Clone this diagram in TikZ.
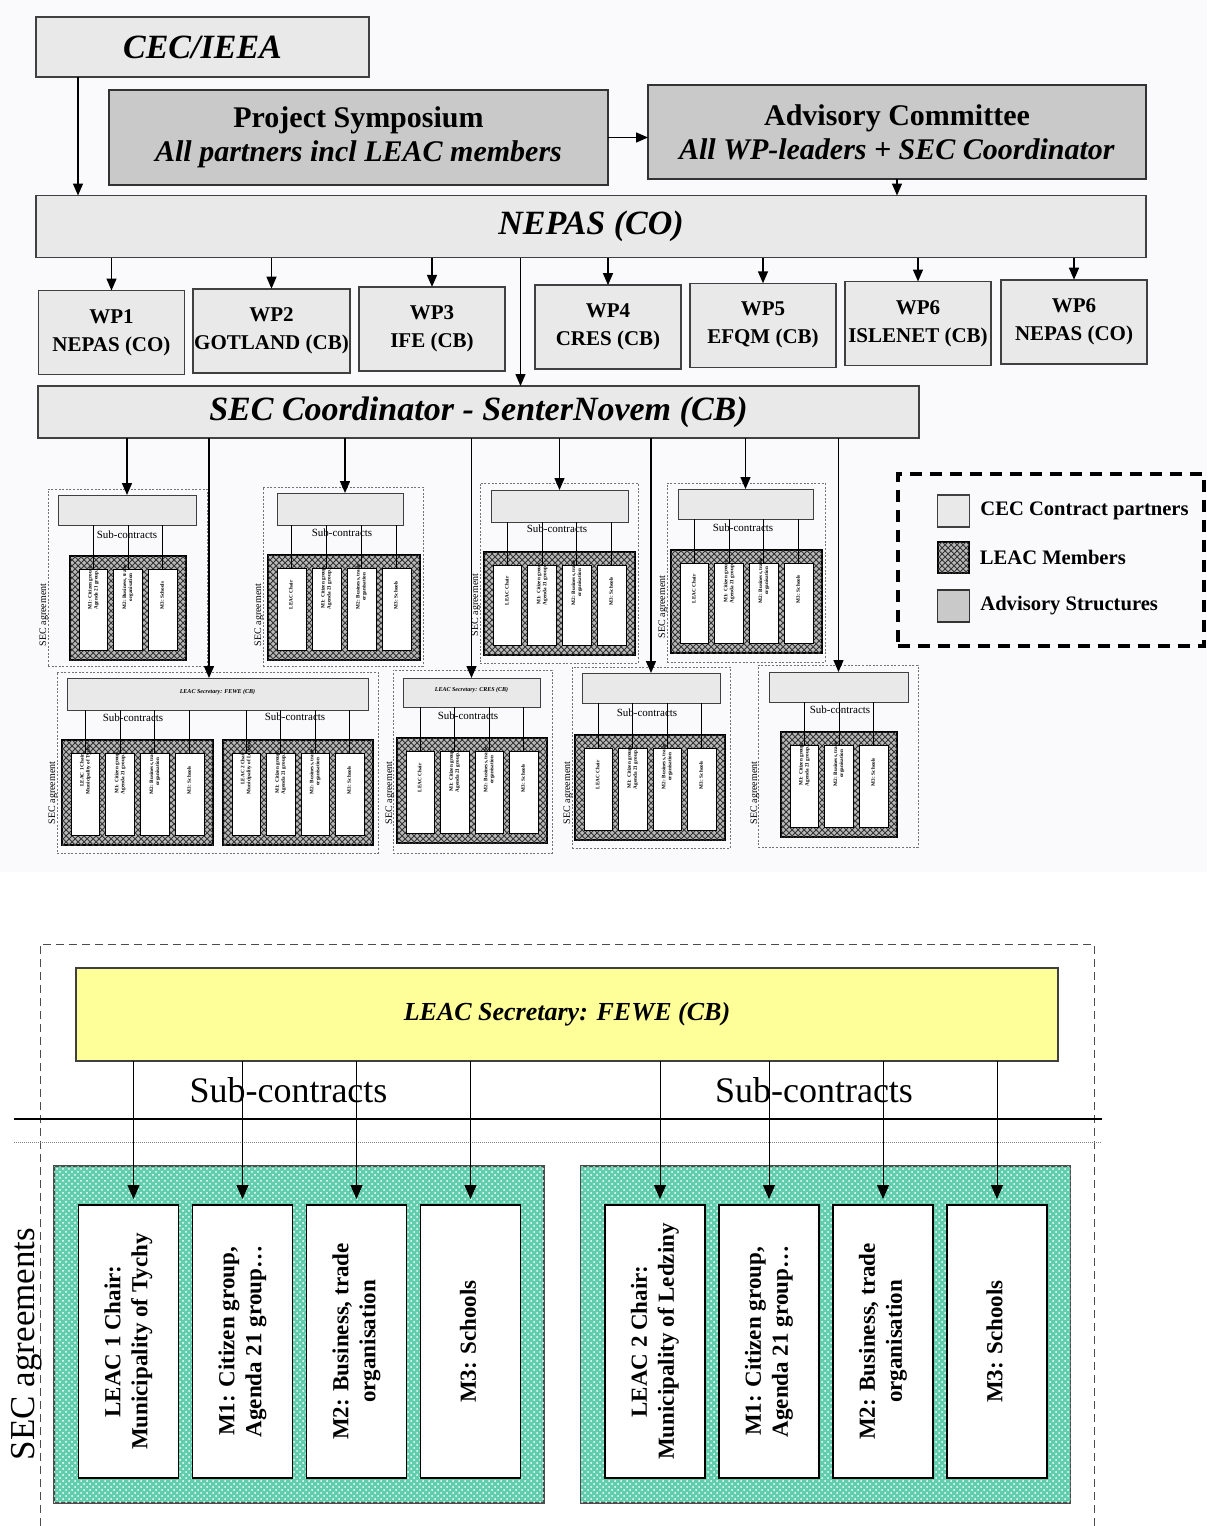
\documentclass[tikz,border=0pt]{standalone}
\usepackage{fontspec}
\setmainfont{Liberation Serif}
\usepackage{graphicx}
\usetikzlibrary{shapes.geometric, arrows, arrows.meta, positioning, patterns, fit}

\definecolor{scanbg}{RGB}{250,249,252}
\definecolor{leacteal}{RGB}{96,206,172}
\definecolor{secyellow}{RGB}{255,255,153}

\tikzstyle{partner} = [rectangle, draw=black!75, line width=0.8pt, fill=gray!17, text centered, inner sep=0pt, outer sep=0pt]
\tikzstyle{advisory} = [rectangle, draw=black!80, line width=0.8pt, fill=gray!42, text centered, inner sep=0pt, outer sep=0pt]
\tikzstyle{leac} = [rectangle, draw=black, line width=0.8pt, fill=gray!55, postaction={pattern=crosshatch, pattern color=black!80}, inner sep=0pt, outer sep=0pt]
\tikzstyle{member} = [rectangle, draw=black, line width=0.5pt, fill=white, inner sep=0pt, outer sep=0pt]
\tikzstyle{agreement} = [rectangle, draw=black!55, dash pattern=on 1pt off 0.8pt, line width=0.4pt, inner sep=0pt]
\tikzstyle{minihead} = [partner, line width=0.5pt, align=center, font=\bfseries\itshape\fontsize{3}{3.6}\selectfont]
\tikzstyle{smallprint} = [font=\bfseries\fontsize{2.6}{3}\selectfont]
\tikzstyle{subc} = [inner sep=0pt, font=\fontsize{5.5}{6}\selectfont]
\tikzstyle{secagr} = [inner sep=0pt, rotate=90, font=\fontsize{5}{6}\selectfont]
\tikzstyle{wpbox} = [partner, minimum width=73pt, minimum height=42pt, align=center, font=\bfseries\fontsize{10.5}{14}\selectfont]
\tikzstyle{legendtext} = [inner sep=0pt, font=\bfseries\fontsize{10.3}{12}\selectfont]
\tikzstyle{secretary} = [rectangle, draw=black!75, line width=0.8pt, fill=secyellow, minimum width=491pt, minimum height=46.5pt, outer sep=0pt, font=\bfseries\itshape\fontsize{13}{15}\selectfont]
\tikzstyle{tealbox} = [rectangle, draw=black!70, line width=0.7pt, fill=leacteal, postaction={pattern=crosshatch dots, pattern color=white}, minimum width=245pt, minimum height=168.5pt]
\tikzstyle{bigmember} = [member, line width=0.8pt, minimum width=50pt, minimum height=136.5pt, font=\bfseries\fontsize{11.5}{13.5}\selectfont]
\tikzstyle{subtext} = [inner sep=0pt, font=\fontsize{18}{20}\selectfont]
\tikzstyle{arrow} = [line width=0.7pt, ->, >={Triangle[length=6pt, width=5pt]}]
\tikzstyle{thinarrow} = [line width=0.5pt, ->, >={Triangle[length=7pt, width=6pt]}, shorten >=3pt]

\newcommand{\vtext}[1]{\rotatebox{90}{\begin{tabular}{@{}c@{}}#1\end{tabular}}}
\def\mtexti{M1: Citizen group,\\Agenda 21 group\ldots}
\def\mtextii{M2: Business, trade\\organisation}
\def\mtextiii{M3: Schools}

% LEAC member group: name, x1, y1, x2, y2, columns, chair text, header node
\newcommand{\membergroup}[8]{%
  \node (#1) [leac, fit={(#2,#3) (#4,#5)}] {};
  \pgfmathsetmacro{\colw}{(#4-#2-18-(#6-1)*6)/#6}
  \foreach \k in {1,...,#6}{
    \pgfmathsetmacro{\xa}{#2+9+(\k-1)*(\colw+6)}
    \pgfmathsetmacro{\xb}{\xa+\colw}
    \pgfmathtruncatemacro{\m}{\k-#6+3}
    \ifnum\m=0 \def\coltext{#7}\else\expandafter\let\expandafter\coltext\csname mtext\romannumeral\m\endcsname\fi
    \node (#1-\k) [member, smallprint, fit={(\xa,#3+13) (\xb,#5-10)}] {\vtext{\coltext}};
    \draw [line width=0.4pt] (#8.south -| #1-\k.north) -- (#1-\k.north);
  }
}

\begin{document}
\begin{tikzpicture}[x=0.5pt, y=-0.5pt]
      \useasboundingbox (0,0) rectangle (1207,1526);
      \fill [scanbg] (0,0) rectangle (1207,872);
      % Nodes
      \node (cec) [partner, minimum width=166.5pt, minimum height=30pt, font=\bfseries\itshape\fontsize{17}{20}\selectfont] at (202.5,47) {CEC/IEEA};
      \node (sym) [advisory, minimum width=249.5pt, minimum height=47.5pt, align=center, font=\fontsize{15}{17}\selectfont] at (358.5,137.5) {\textbf{Project Symposium}\\\textbf{\textit{All partners incl LEAC members}}};
      \node (adv) [advisory, minimum width=249pt, minimum height=47pt, align=center, font=\fontsize{15}{17}\selectfont] at (897,132) {\textbf{Advisory Committee}\\\textbf{\textit{All WP-leaders + SEC Coordinator}}};
      \node (nepas) [partner, minimum width=555pt, minimum height=31pt, font=\bfseries\itshape\fontsize{17}{20}\selectfont] at (591,226.5) {NEPAS (CO)};
      \node (wp1) [wpbox] at (111.5,332.5) {WP1\\NEPAS (CO)};
      \node (wp2) [wpbox, minimum width=78.5pt, right=4.25pt of wp1, yshift=0.9pt] {WP2\\GOTLAND (CB)};
      \node (wp3) [wpbox, right=4.5pt of wp2, yshift=0.9pt] {WP3\\IFE (CB)};
      \node (wp4) [wpbox, right=15pt of wp3, yshift=0.9pt] {WP4\\CRES (CB)};
      \node (wp5) [wpbox, right=4.5pt of wp4, yshift=0.9pt] {WP5\\EFQM (CB)};
      \node (wp6) [wpbox, right=4.5pt of wp5, yshift=0.9pt] {WP6\\ISLENET (CB)};
      \node (wp7) [wpbox, right=5pt of wp6, yshift=0.9pt] {WP6\\NEPAS (CO)};
      \node (sec) [partner, minimum width=440.5pt, minimum height=26pt, font=\bfseries\itshape\fontsize{17}{20}\selectfont] at (478.5,412) {SEC Coordinator - SenterNovem (CB)};
      % SEC agreements, upper row
      \node (oa) [agreement, fit={(48,489) (207,666)}] {};
      \node (ha) [minihead, fit={(58,495) (196,525)}] {};
      \node (sa) [subc] at (127,535) {Sub-contracts};
      \node (ga) [secagr] at (44,615) {SEC agreement};
      \membergroup{la}{70}{556}{186}{660}{3}{}{ha}
      \node (ob) [agreement, fit={(263,487) (423,666)}] {};
      \node (hb) [minihead, fit={(277,493) (403,525)}] {};
      \node (sb) [subc] at (342,533) {Sub-contracts};
      \node (gb) [secagr] at (259,615) {SEC agreement};
      \membergroup{lb}{268}{555}{420}{660}{4}{LEAC Chair}{hb}
      \node (oc) [agreement, fit={(480,483) (638,663)}] {};
      \node (hc) [minihead, fit={(491,490) (628,522)}] {};
      \node (sc) [subc] at (557,529) {Sub-contracts};
      \node (gc) [secagr] at (476,605) {SEC agreement};
      \membergroup{lc}{484}{552}{635}{655}{4}{LEAC Chair}{hc}
      \node (od) [agreement, fit={(667,483) (825,662)}] {};
      \node (hd) [minihead, fit={(678,489) (813,519)}] {};
      \node (sd) [subc] at (743,528) {Sub-contracts};
      \node (gd) [secagr] at (663,607) {SEC agreement};
      \membergroup{ld}{671}{550}{822}{653}{4}{LEAC Chair}{hd}
      % SEC agreements, lower row
      \node (oe) [agreement, fit={(57,672) (378,853)}] {};
      \node (he) [minihead, fit={(67,678) (368,710)}] {LEAC Secretary: FEWE (CB)};
      \node (se1) [subc] at (133,718) {Sub-contracts};
      \node (se2) [subc] at (295,717) {Sub-contracts};
      \node (ge) [secagr] at (53,793) {SEC agreement};
      \membergroup{le}{62}{740}{213}{845}{4}{LEAC 1 Chair:\\Municipality of Tychy}{he}
      \membergroup{lf}{223}{740}{373}{845}{4}{LEAC 2 Chair:\\Municipality of Ledziny}{he}
      \node (of) [agreement, fit={(393,670) (552,853)}] {};
      \node (hf) [minihead, fit={(403,678) (540,707)}] {LEAC Secretary: CRES (CB)};
      \node (sf) [subc] at (468,716) {Sub-contracts};
      \node (gf) [secagr] at (390,793) {SEC agreement};
      \membergroup{lg}{397}{738}{547}{843}{4}{LEAC Chair}{hf}
      \node (og) [agreement, fit={(572,667) (730,848)}] {};
      \node (hg) [minihead, fit={(582,673) (720,703)}] {};
      \node (sg) [subc] at (647,713) {Sub-contracts};
      \node (gg) [secagr] at (568,793) {SEC agreement};
      \membergroup{lh}{575}{735}{725}{840}{4}{LEAC Chair}{hg}
      \node (oh) [agreement, fit={(758,665) (918,847)}] {};
      \node (hh) [minihead, fit={(769,672) (908,702)}] {};
      \node (sh) [subc] at (840,710) {Sub-contracts};
      \node (gh) [secagr] at (755,793) {SEC agreement};
      \membergroup{li}{781}{732}{897}{837}{3}{}{hh}
      % Legend
      \node (legend) [draw, line width=1.6pt, dash pattern=on 6pt off 4pt, inner sep=0pt, fit={(898,474) (1204,646)}] {};
      \node (key1) [partner, line width=0.6pt, minimum size=16pt] at (953.5,511) {};
      \node (key2) [leac, minimum size=15.5pt] at (953.5,557.5) {};
      \node (key3) [advisory, line width=0.6pt, minimum size=16pt] at (953.5,606) {};
      \node (lab1) [legendtext, right=5.25pt of key1] {CEC Contract partners};
      \node (lab2) [legendtext, right=5.25pt of key2] {LEAC Members};
      \node (lab3) [legendtext, right=5.25pt of key3] {Advisory Structures};
      % Arrows
      \draw [arrow] ([xshift=21pt]cec.south west) -- ([xshift=21pt]cec.south west |- nepas.north);
      \draw [arrow] (sym.east) -- (sym.east -| adv.west);
      \draw [arrow] (adv.south) -- (adv.south |- nepas.north);
      \foreach \w in {wp1,wp2,wp3,wp4,wp5,wp6,wp7}
        \draw [arrow] (\w.north |- nepas.south) -- (\w.north);
      \draw [arrow] ([xshift=21pt]sec.north |- nepas.south) -- ([xshift=21pt]sec.north);
      \foreach \h in {ha,hc,hd,hf,hg,hh}
        \draw [arrow] (\h.north |- sec.south) -- (\h.north);
      \draw [arrow] ([xshift=2.5pt]hb.north |- sec.south) -- ([xshift=2.5pt]hb.north);
      \draw [arrow] ([xshift=-4.25pt]he.north |- sec.south) -- ([xshift=-4.25pt]he.north);

      % Detail: LEAC Secretary FEWE
      \draw [black!70, line width=0.5pt, dash pattern=on 4pt off 2.5pt] (40,1526) -- (40,944) -- (1094,944) -- (1094,1526);
      \node (fewe) [secretary] at (567,1014.5) {LEAC Secretary: FEWE (CB)};
      \node (tealL) [tealbox] at (299,1334.5) {};
      \node (tealR) [tealbox] at (825.5,1334.5) {};
      \node (b1) [bigmember] at (128.5,1341.5) {\vtext{LEAC 1 Chair:\\Municipality of Tychy}};
      \node (b2) [bigmember, right=7pt of b1] {\vtext{\mtexti}};
      \node (b3) [bigmember, right=7pt of b2] {\vtext{\mtextii}};
      \node (b4) [bigmember, right=7pt of b3] {\vtext{\mtextiii}};
      \node (b5) [bigmember] at (655,1341.5) {\vtext{LEAC 2 Chair:\\Municipality of Ledziny}};
      \node (b6) [bigmember, right=7pt of b5] {\vtext{\mtexti}};
      \node (b7) [bigmember, right=7pt of b6] {\vtext{\mtextii}};
      \node (b8) [bigmember, right=7pt of b7] {\vtext{\mtextiii}};
      \node (subL) [subtext] at (288.5,1090) {Sub-contracts};
      \node (subR) [subtext] at (814,1090) {Sub-contracts};
      \node (agreements) [rotate=90, inner sep=0pt, font=\fontsize{17.5}{20}\selectfont] at (27,1344) {SEC agreements};
      \draw [line width=0.8pt] (14,1119) -- (1102,1119);
      \draw [gray, line width=0.5pt, dash pattern=on 0.5pt off 0.5pt] (14,1142) -- (1102,1142);
      \draw [thinarrow] ([xshift=2.5pt]b1.north |- fewe.south) -- ([xshift=2.5pt]b1.north);
      \draw [thinarrow] ([xshift=2.5pt]b5.north |- fewe.south) -- ([xshift=2.5pt]b5.north);
      \foreach \b in {b2,b3,b4,b6,b7,b8}
        \draw [thinarrow] (\b.north |- fewe.south) -- (\b.north);
    \end{tikzpicture}
\end{document}
